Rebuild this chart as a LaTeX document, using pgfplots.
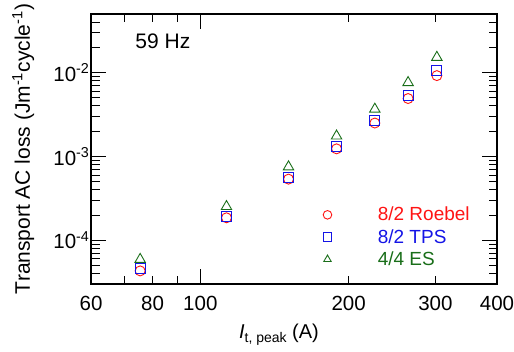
\documentclass[border=0pt]{standalone}
\usepackage{pgfplots}
\pgfplotsset{compat=1.18}
\usepackage{fontspec}
\setmainfont{Liberation Sans}
\definecolor{myred}{RGB}{255,20,20}
\definecolor{myblue}{RGB}{20,20,230}
\definecolor{mygreen}{RGB}{25,110,25}
\begin{document}
\begin{tikzpicture}
\begin{axis}[name=ax,
  scale only axis, width=406pt, height=270pt,
  xmode=log, ymode=log,
  xmin=60, xmax=400, ymin=3e-5, ymax=5e-2,
  axis line style={line width=1.1pt},
  tick align=inside,
  major tick length=15pt, minor tick length=8.5pt,
  every tick/.style={black, line width=0.9pt},
  xtick={100}, xticklabels={100},
  minor xtick={70,80,90,200,300},
  extra x ticks={60,80,200,300,400},
  extra x tick labels={60,80,200,300,400},
  extra x tick style={major tick length=0pt},
  ytick={1e-4,1e-3,1e-2},
  yticklabels={10\textsuperscript{-4},10\textsuperscript{-3},10\textsuperscript{-2}},
  minor ytick={4e-5,5e-5,6e-5,7e-5,8e-5,9e-5,2e-4,3e-4,4e-4,5e-4,6e-4,7e-4,8e-4,9e-4,2e-3,3e-3,4e-3,5e-3,6e-3,7e-3,8e-3,9e-3,2e-2,3e-2,4e-2},
  /pgf/number format/assume math mode=true,
  tick label style={font=\fontsize{20.5}{24}\selectfont},
  xticklabel style={yshift=-9pt},
  yticklabel style={xshift=2pt},
  legend style={draw=none, fill=none, at={(rel axis cs:0.564,0.30)}, anchor=north west,
    font=\fontsize{19}{22}\selectfont, column sep=44pt, row sep=3pt},
  legend image post style={mark size=4.3pt},
  legend cell align=left,
]
\addplot[only marks, color=myred, mark=o, mark size=5pt, mark options={line width=0.9pt}]
 coordinates {(75.5,4.3e-5) (113,1.85e-4) (151,5.35e-4) (189,1.23e-3) (226,2.5e-3) (264,4.9e-3) (302,9.2e-3)};
\addlegendentry{\textcolor{myred}{8/2 Roebel}}
\addplot[only marks, color=myblue, mark=square, mark size=5pt, mark options={line width=0.9pt}]
 coordinates {(75.5,4.6e-5) (113,1.93e-4) (151,5.65e-4) (189,1.30e-3) (226,2.7e-3) (264,5.4e-3) (302,1.06e-2)};
\addlegendentry{\textcolor{myblue}{8/2 TPS}}
\addplot[only marks, color=mygreen, mark=triangle, mark size=6pt, mark options={line width=0.9pt}]
 coordinates {(75.5,5.9e-5) (113,2.52e-4) (151,7.5e-4) (189,1.75e-3) (226,3.66e-3) (264,7.6e-3) (302,1.52e-2)};
\addlegendentry{\textcolor{mygreen}{4/4 ES}}
\node[font=\fontsize{21}{24}\selectfont] at (rel axis cs:0.177,0.9) {59 Hz};
\end{axis}
\node[rotate=90, anchor=base, font=\fontsize{21}{24}\selectfont] at ([xshift=-61pt]ax.west)
  {Transport AC loss (Jm\textsuperscript{-1}cycle\textsuperscript{-1})};
\node[anchor=base, font=\fontsize{20}{24}\selectfont] at ([xshift=-15pt,yshift=-55pt]ax.south)
  {\textit{I}\raisebox{-4pt}{\fontsize{14}{16}\selectfont t, peak} (A)};
\pgfresetboundingbox
\path[use as bounding box] ([xshift=-91pt,yshift=-68pt]ax.south west) rectangle ([xshift=17pt,yshift=14pt]ax.north east);
\end{tikzpicture}
\end{document}
